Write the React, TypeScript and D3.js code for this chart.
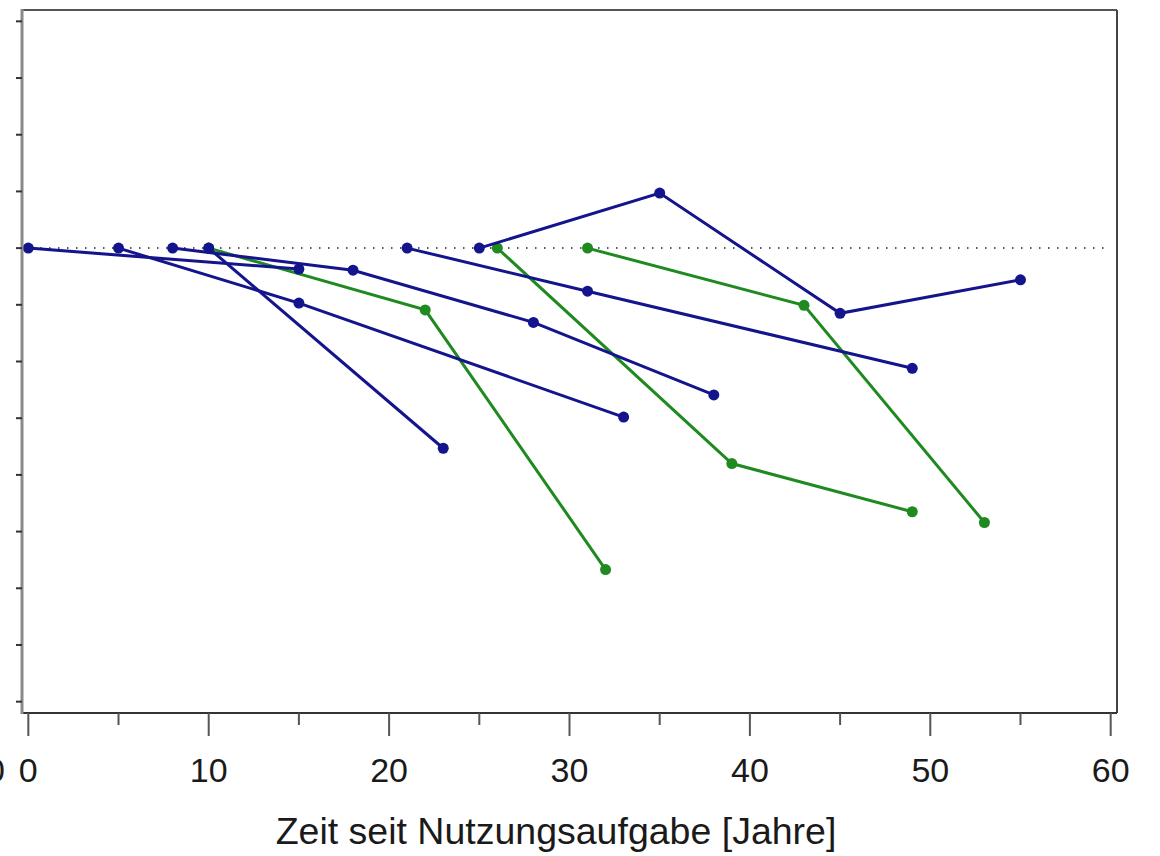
import * as d3 from "d3";

// Zeitreihen (Jahre seit Nutzungsaufgabe, Wert)
const blueSeries: [number, number][][] = [
  [[0, 0], [15, -0.37]],
  [[5, 0], [15, -0.97], [33, -2.98]],
  [[8, 0], [18, -0.39], [28, -1.31], [38, -2.59]],
  [[10, 0], [23, -3.53]],
  [[21, 0], [31, -0.76], [49, -2.12]],
  [[25, 0], [35, 0.97], [45, -1.15], [55, -0.56]],
];

const greenSeries: [number, number][][] = [
  [[10, 0], [22, -1.09], [32, -5.67]],
  [[26, 0], [39, -3.8], [49, -4.65]],
  [[31, 0], [43, -1.01], [53, -4.84]],
];

const xMajorTicks = [0, 10, 20, 30, 40, 50, 60];
const xMinorTicks = [5, 15, 25, 35, 45, 55];
const yTicks = [4, 3, 2, 1, 0, -1, -2, -3, -4, -5, -6, -7, -8];

const BLUE = "#14148c";
const GREEN = "#1f8a1f";

export default function App() {
  const width = 1160;
  const height = 856;
  const left = 22;
  const right = 1117;
  const top = 10;
  const bottom = 713;

  const x = d3.scaleLinear().domain([-0.35, 60.35]).range([left, right]);
  const y = d3.scaleLinear().domain([-8.2, 4.2]).range([bottom, top]);

  const line = d3
    .line<[number, number]>()
    .x((d) => x(d[0]))
    .y((d) => y(d[1]));

  const font = "Arial, 'Liberation Sans', sans-serif";

  const drawSeries = (series: [number, number][][], color: string, key: string) =>
    series.map((s, i) => (
      <g key={`${key}-${i}`}>
        <path d={line(s) ?? ""} fill="none" stroke={color} strokeWidth={3} />
        {s.map((p, j) => (
          <circle key={j} cx={x(p[0])} cy={y(p[1])} r={5.5} fill={color} />
        ))}
      </g>
    ));

  return (
    <div style={{ position: "absolute", left: 0, top: 0 }}>
      <svg width={width} height={height} style={{ display: "block", background: "#fff" }}>
        {/* Nulllinie */}
        <line
          x1={left}
          x2={x(59.8)}
          y1={y(0)}
          y2={y(0)}
          stroke="#222"
          strokeWidth={1.5}
          strokeDasharray="1.5,7.5"
        />

        {drawSeries(greenSeries, GREEN, "g")}
        {drawSeries(blueSeries, BLUE, "b")}

        {/* Rahmen */}
        <line x1={left} x2={right} y1={top} y2={top} stroke="#555" strokeWidth={2} />
        <line x1={right} x2={right} y1={top} y2={bottom} stroke="#444" strokeWidth={2} />
        <line x1={left} x2={right} y1={bottom} y2={bottom} stroke="#333" strokeWidth={2} />
        <line x1={left} x2={left} y1={top - 1} y2={bottom + 1} stroke="#8a8a8a" strokeWidth={3} />

        {/* y-Ticks */}
        {yTicks.map((t) => (
          <line key={t} x1={left - 6} x2={left} y1={y(t)} y2={y(t)} stroke="#333" strokeWidth={2} />
        ))}

        {/* x-Ticks */}
        {xMajorTicks.map((t) => (
          <g key={t}>
            <line x1={x(t)} x2={x(t)} y1={bottom} y2={bottom + 23} stroke="#555" strokeWidth={2} />
            <text x={x(t)} y={782} textAnchor="middle" fontFamily={font} fontSize={34} fill="#1a1a1a">
              {t}
            </text>
          </g>
        ))}
        {xMinorTicks.map((t) => (
          <line key={t} x1={x(t)} x2={x(t)} y1={bottom} y2={bottom + 12} stroke="#555" strokeWidth={2} />
        ))}

        <text x={5} y={782} textAnchor="end" fontFamily={font} fontSize={34} fill="#1a1a1a">
          0
        </text>

        <text x={556} y={844} textAnchor="middle" fontFamily={font} fontSize={37.5} fill="#1a1a1a">
          Zeit seit Nutzungsaufgabe [Jahre]
        </text>
      </svg>
    </div>
  );
}
